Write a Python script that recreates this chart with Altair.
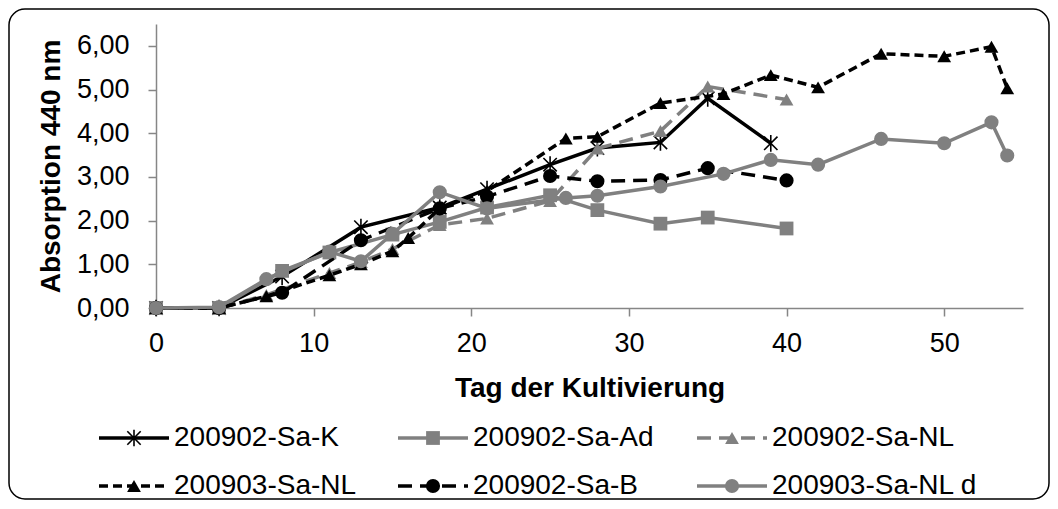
import altair as alt
import pandas as pd

# ---------------- data ----------------
series_names = ["200902-Sa-K", "200902-Sa-Ad", "200902-Sa-NL",
                "200903-Sa-NL", "200902-Sa-B", "200903-Sa-NL d"]

days_K = [0, 4, 8, 13, 18, 21, 25, 28, 32, 35, 39]
abs_K = [0.00, 0.00, 0.72, 1.85, 2.30, 2.72, 3.28, 3.66, 3.79, 4.80, 3.77]

days_Ad = [0, 4, 8, 11, 15, 18, 21, 25, 28, 32, 35, 40]
abs_Ad = [0.00, 0.00, 0.85, 1.27, 1.68, 1.97, 2.30, 2.58, 2.24, 1.93, 2.07, 1.82]

days_NL2 = [0, 4, 7, 11, 13, 15, 18, 21, 25, 28, 32, 35, 40]
abs_NL2 = [0.00, 0.00, 0.30, 0.80, 1.05, 1.35, 1.90, 2.05, 2.45, 3.65, 4.05, 5.07, 4.77]

days_NL3 = [0, 4, 7, 11, 13, 15, 16, 18, 21, 26, 28, 32, 36, 39, 42, 46, 50, 53, 54]
abs_NL3 = [0.00, 0.00, 0.27, 0.75, 1.00, 1.30, 1.60, 2.28, 2.68, 3.88, 3.92, 4.69,
           4.90, 5.33, 5.05, 5.82, 5.76, 5.98, 5.03]

days_B = [0, 4, 8, 13, 18, 21, 25, 28, 32, 35, 40]
abs_B = [0.00, 0.00, 0.35, 1.55, 2.28, 2.55, 3.02, 2.90, 2.93, 3.20, 2.92]

days_NLd = [0, 4, 7, 11, 13, 15, 18, 21, 26, 28, 32, 36, 39, 42, 46, 50, 53, 54]
abs_NLd = [0.00, 0.02, 0.66, 1.29, 1.07, 1.70, 2.65, 2.28, 2.52, 2.57, 2.78,
           3.07, 3.39, 3.28, 3.87, 3.77, 4.25, 3.49]

x_ticks = [0, 10, 20, 30, 40, 50]
y_ticks = [0, 1, 2, 3, 4, 5, 6]

legend_cols = [0, 1, 2, 0, 1, 2]
legend_rows = [0, 0, 0, 1, 1, 1]

all_days = [days_K, days_Ad, days_NL2, days_NL3, days_B, days_NLd]
all_abs = [abs_K, abs_Ad, abs_NL2, abs_NL3, abs_B, abs_NLd]

# ---------------- styles ----------------
FONT = "Liberation Sans"
GRAY = "#808080"
BLACK = "#000000"
ASTERISK = "M0,-1V1M-0.8,-0.8L0.8,0.8M-0.8,0.8L0.8,-0.8"

styles = [
    dict(color=BLACK, dash=None, shape=ASTERISK, filled=False, size=280),
    dict(color=GRAY, dash=None, shape="square", filled=True, size=190),
    dict(color=GRAY, dash=[14, 8], shape="triangle-up", filled=True, size=190),
    dict(color=BLACK, dash=[9, 5], shape="triangle-up", filled=True, size=190),
    dict(color=BLACK, dash=[14, 8], shape="circle", filled=True, size=200),
    dict(color=GRAY, dash=None, shape="circle", filled=True, size=200),
]

x_enc = alt.X(
    "day:Q",
    scale=alt.Scale(domain=[0, 55], nice=False, zero=False),
    axis=alt.Axis(values=x_ticks, title="Tag der Kultivierung", format="d",
                  labelFlush=False, labelPadding=14,
                  titleBaseline="middle", titleY=80),
)
y_enc = alt.Y(
    "val:Q",
    scale=alt.Scale(domain=[0, 6.5], nice=False, zero=False),
    axis=alt.Axis(values=y_ticks, title="Absorption 440 nm",
                  labelExpr="replace(format(datum.value, '.2f'), '.', ',')",
                  labelFlush=False, labelPadding=19,
                  titleBaseline="middle", titleAlign="center",
                  titleX=-105, titleY=142),
)

main_layers = []
for name, d, v, st in zip(series_names, all_days, all_abs, styles):
    df = pd.DataFrame({"day": d, "val": v, "series": name})
    line_kw = dict(color=st["color"], strokeWidth=3.5, clip=False)
    if st["dash"]:
        line_kw["strokeDash"] = st["dash"]
    main_layers.append(alt.Chart(df).mark_line(**line_kw).encode(x=x_enc, y=y_enc))
    pt_kw = dict(shape=st["shape"], filled=st["filled"], size=st["size"],
                 color=st["color"], opacity=1, clip=False)
    if not st["filled"]:
        pt_kw["strokeWidth"] = 1.6
    main_layers.append(alt.Chart(df).mark_point(**pt_kw).encode(x=x_enc, y=y_enc))

main = alt.layer(*main_layers)

# ---------------- legend (own scales) ----------------
leg_x = alt.X("col:Q", scale=alt.Scale(domain=[0, 2], range=[-57, 541], nice=False, zero=False), axis=None)
leg_y = alt.Y("row:Q", scale=alt.Scale(domain=[0, 1], range=[414, 462], nice=False, zero=False), axis=None)

legend_layers = []
for name, c, r, st in zip(series_names, legend_cols, legend_rows, styles):
    ldf = pd.DataFrame({"col": [c], "row": [r], "label": [name]})
    rule_kw = dict(color=st["color"], strokeWidth=3.5, x2Offset=70)
    if st["dash"]:
        rule_kw["strokeDash"] = st["dash"]
    legend_layers.append(
        alt.Chart(ldf).mark_rule(**rule_kw).encode(x=leg_x, x2=alt.X2("col"), y=leg_y)
    )
    pt_kw = dict(shape=st["shape"], filled=st["filled"], size=st["size"],
                 color=st["color"], opacity=1, xOffset=35)
    if not st["filled"]:
        pt_kw["strokeWidth"] = 1.6
    legend_layers.append(alt.Chart(ldf).mark_point(**pt_kw).encode(x=leg_x, y=leg_y))
    legend_layers.append(
        alt.Chart(ldf).mark_text(align="left", baseline="middle", xOffset=75,
                                 font=FONT, fontSize=28, color=BLACK)
        .encode(x=leg_x, y=leg_y, text="label:N")
    )

legend = alt.layer(*legend_layers)

border = alt.Chart(pd.DataFrame({"a": [0]})).mark_rect(
    fill="transparent", stroke="#000000", strokeWidth=1.5, cornerRadius=16
).encode(x=alt.value(-147), x2=alt.value(893), y=alt.value(-15), y2=alt.value(475))

chart = (
    alt.layer(border, main, legend)
    .resolve_scale(x="independent", y="independent")
    .properties(width=867, height=284, padding=0, background="white")
    .configure_view(stroke=None)
    .configure_axis(
        grid=False,
        domainColor="#868686", domainWidth=1.5,
        tickColor="#868686", tickWidth=1.5, tickSize=8,
        labelFont=FONT, labelFontSize=27, labelColor=BLACK,
        titleFont=FONT, titleFontSize=28, titleFontWeight="bold", titleColor=BLACK,
    )
)

chart.save("out.html", embed_options={"renderer": "svg", "actions": False})
